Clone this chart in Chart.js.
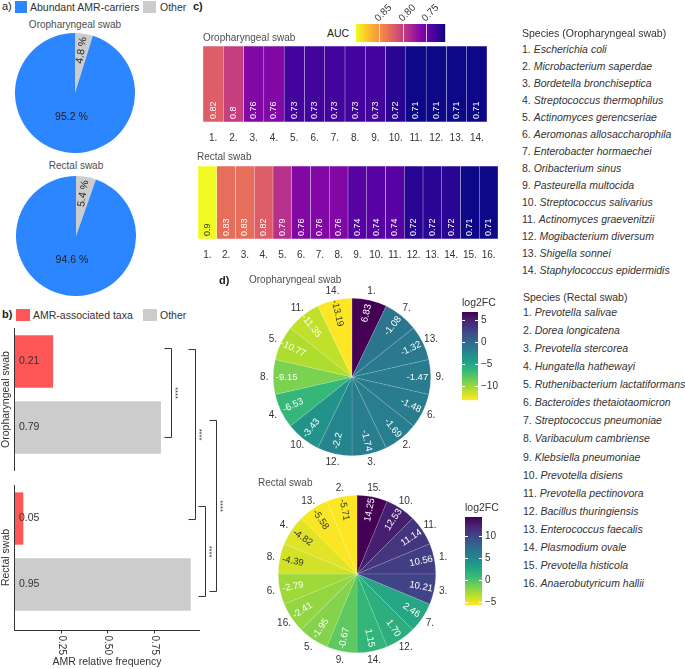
<!DOCTYPE html>
<html lang="en">
<head>
<meta charset="UTF-8">
<title>AMR carriers overview</title>
<script src="https://cdn.jsdelivr.net/npm/chart.js"></script>
<style>
  body { margin: 0; background: #fff; font-family: "Liberation Sans", Arial, sans-serif; color: #333; }
  #fig { position: relative; width: 685px; height: 669px; overflow: hidden; }
  #fig canvas { position: absolute; }
  .t { position: absolute; white-space: nowrap; line-height: 1; }
  .sq { position: absolute; }
  .title { font-size: 10px; color: #4d4d4d; }
  .tag { font-size: 11px; font-weight: bold; color: #222; }
  .leg { font-size: 10.5px; color: #333; }
  .species { font-size: 10.5px; color: #333; }
</style>
</head>
<body>
<div id="fig">
  <!-- a) -->
  <div class="t" style="left:2px;top:1px;font-size:11px;color:#222">a)</div>
  <div class="sq" style="left:15px;top:1px;width:12px;height:12px;background:#2b86ff"></div>
  <div class="t leg" style="left:30px;top:2px">Abundant AMR-carriers</div>
  <div class="sq" style="left:143px;top:1px;width:13px;height:12px;background:#cccccc"></div>
  <div class="t leg" style="left:160px;top:2px">Other</div>
  <div class="t title" style="left:0;width:150px;text-align:center;top:20px">Oropharyngeal swab</div>
  <canvas id="pieOro" width="120" height="120" style="left:15px;top:33px"></canvas>
  <div class="t title" style="left:1px;width:150px;text-align:center;top:161px">Rectal swab</div>
  <canvas id="pieRectal" width="120" height="120" style="left:16px;top:176px"></canvas>

  <!-- b) -->
  <div class="t tag" style="left:2px;top:309px">b)</div>
  <div class="sq" style="left:16px;top:309px;width:14px;height:12px;background:#ff5757"></div>
  <div class="t leg" style="left:33px;top:310px">AMR-associated taxa</div>
  <div class="sq" style="left:143px;top:309px;width:14px;height:12px;background:#cccccc"></div>
  <div class="t leg" style="left:160px;top:310px">Other</div>
  <canvas id="freq" width="232" height="369" style="left:0;top:300px"></canvas>

  <!-- c) -->
  <div class="t tag" style="left:193px;top:1px">c)</div>
  <div class="t leg" style="left:327px;top:28px;color:#222">AUC</div>
  <canvas id="heatOro" width="300" height="146" style="left:195px;top:0"></canvas>
  <div class="t title" style="left:203px;top:33px">Oropharyngeal swab</div>
  <canvas id="heatRectal" width="316" height="113" style="left:190px;top:150px"></canvas>
  <div class="t title" style="left:197px;top:152px">Rectal swab</div>

  <!-- d) -->
  <canvas id="fcOro" width="262" height="200" style="left:250px;top:277px"></canvas>
  <canvas id="fcRectal" width="262" height="200" style="left:255px;top:474px"></canvas>
  <div class="t tag" style="left:219px;top:275px">d)</div>
  <div class="t title" style="left:249px;top:275px">Oropharyngeal swab</div>
  <div class="t title" style="left:258px;top:478px">Rectal swab</div>

  <div id="speciesList"></div>
</div>

<script>
// a) share of abundant AMR carriers (clockwise from 12 o'clock)
const shareLabels = ['Other', 'Abundant AMR-carriers'];
const shareOro = [4.8, 95.2];
const shareRectal = [5.4, 94.6];

// b) AMR relative frequency
const swabs = ['Oropharyngeal swab', 'Rectal swab'];
const amrTaxa = [0.21, 0.05];
const amrOther = [0.79, 0.95];
const freqTicks = [0.25, 0.5, 0.75];

// c) AUC per species
const aucOroIds = ['1.', '2.', '3.', '4.', '5.', '6.', '7.', '8.', '9.', '10.', '11.', '12.', '13.', '14.'];
const aucOro = [0.82, 0.8, 0.76, 0.76, 0.73, 0.73, 0.73, 0.73, 0.73, 0.72, 0.71, 0.71, 0.71, 0.71];
const aucRectalIds = ['1.', '2.', '3.', '4.', '5.', '6.', '7.', '8.', '9.', '10.', '11.', '12.', '13.', '14.', '15.', '16.'];
const aucRectal = [0.9, 0.83, 0.83, 0.82, 0.79, 0.76, 0.76, 0.76, 0.74, 0.74, 0.74, 0.72, 0.72, 0.72, 0.71, 0.71];
const aucTicks = [0.85, 0.80, 0.75];

// d) log2 fold change, slices clockwise from 12 o'clock
const fcOroIds = ['1.', '7.', '13.', '9.', '6.', '2.', '3.', '12.', '10.', '4.', '8.', '5.', '11.', '14.'];
const fcOro = [6.83, -1.08, -1.32, -1.47, -1.48, -1.69, -1.74, -2.2, -3.43, -6.53, -9.15, -10.77, -11.35, -13.19];
const fcRectalIds = ['15.', '10.', '11.', '1.', '3.', '7.', '12.', '14.', '9.', '5.', '16.', '6.', '8.', '4.', '13.', '2.'];
const fcRectal = [14.25, 12.53, 11.14, 10.56, 10.21, 2.46, 1.70, 1.15, -0.67, -1.95, -2.41, -2.79, -4.39, -4.82, -5.58, -5.71];
const fcOroTicks = [5, 0, -5, -10];
const fcRectalTicks = [10, 5, 0, -5];

const speciesOro = ['Escherichia coli', 'Microbacterium saperdae', 'Bordetella bronchiseptica',
  'Streptococcus thermophilus', 'Actinomyces gerencseriae', 'Aeromonas allosaccharophila',
  'Enterobacter hormaechei', 'Oribacterium sinus', 'Pasteurella multocida', 'Streptococcus salivarius',
  'Actinomyces graevenitzii', 'Mogibacterium diversum', 'Shigella sonnei', 'Staphylococcus epidermidis'];
const speciesRectal = ['Prevotella salivae', 'Dorea longicatena', 'Prevotella stercorea', 'Hungatella hathewayi',
  'Ruthenibacterium lactatiformans', 'Bacteroides thetaiotaomicron', 'Streptococcus pneumoniae',
  'Varibaculum cambriense', 'Klebsiella pneumoniae', 'Prevotella disiens', 'Prevotella pectinovora',
  'Bacillus thuringiensis', 'Enterococcus faecalis', 'Plasmodium ovale', 'Prevotella histicola',
  'Anaerobutyricum hallii'];

const FONT = '"Liberation Sans", Arial, sans-serif';
Chart.defaults.font.family = FONT;
Chart.defaults.color = '#333';

const plasmaStops = ['#0d0887', '#41049d', '#6a00a8', '#8f0da4', '#b12a90', '#cc4778', '#e16462', '#f2844b', '#fca636', '#fcce25', '#f0f921'];
const viridisStops = ['#440154', '#482878', '#3e4989', '#31688e', '#26828e', '#1f9e89', '#35b779', '#6ece58', '#b5de2b', '#fde725'];

function ramp(stops, t) {
  t = Math.max(0, Math.min(1, t));
  const n = stops.length - 1;
  const i = Math.min(n - 1, Math.floor(t * n));
  const f = t * n - i;
  const a = stops[i], b = stops[i + 1];
  const c = [1, 3, 5].map(k => {
    const x = parseInt(a.slice(k, k + 2), 16), y = parseInt(b.slice(k, k + 2), 16);
    return Math.round(x + (y - x) * f);
  });
  return `rgb(${c.join(',')})`;
}

// text along the radius, flipped on the left half so it never reads upside down
function radialRotation(phi) {
  let theta = (phi + Math.PI / 2) % (2 * Math.PI);
  if (theta < 0) theta += 2 * Math.PI;
  return theta < Math.PI ? phi : phi - Math.PI;
}

const noChrome = { legend: { display: false }, tooltip: { enabled: false } };

// ---------- a) pies ----------
const sharePlugin = {
  id: 'shareLabels',
  afterDatasetsDraw(chart) {
    const ctx = chart.ctx;
    const values = chart.data.datasets[0].data;
    chart.getDatasetMeta(0).data.forEach((arc, i) => {
      const phi = (arc.startAngle + arc.endAngle) / 2;
      const small = values[i] < 50;
      const r = arc.outerRadius * (small ? 0.72 : 0.4);
      ctx.save();
      ctx.translate(arc.x + Math.cos(phi) * r, arc.y + Math.sin(phi) * r);
      if (small) ctx.rotate(radialRotation(phi));
      ctx.font = '10.5px ' + FONT;
      ctx.fillStyle = '#222';
      ctx.textAlign = 'center';
      ctx.textBaseline = 'middle';
      ctx.fillText(values[i] + ' %', 0, 0);
      ctx.restore();
    });
  }
};

function sharePie(id, values) {
  return new Chart(document.getElementById(id), {
    type: 'pie',
    data: { labels: shareLabels, datasets: [{ data: values, backgroundColor: ['#cccccc', '#2b86ff'], borderWidth: 0, hoverOffset: 0 }] },
    options: { responsive: false, animation: false, plugins: noChrome },
    plugins: [sharePlugin]
  });
}
sharePie('pieOro', shareOro);
sharePie('pieRectal', shareRectal);

// ---------- b) horizontal bars with brackets ----------
const brackets = [
  { a: [0, 0], b: [1, 0], dx: -29, up: 13, down: 10 },
  { a: [0, 0], b: [0, 1], dx: -5, up: 12, down: 1 },
  { a: [1, 0], b: [1, 1], dx: 16, up: 7, down: 7 },
  { a: [0, 1], b: [1, 1], dx: 5, up: 12, down: 12 }
];

const freqPlugin = {
  id: 'freqDecor',
  afterDatasetsDraw(chart) {
    const { ctx, chartArea: a, scales: { x } } = chart;
    ctx.save();
    ctx.strokeStyle = '#333';
    ctx.fillStyle = '#333';
    ctx.lineWidth = 1;
    // value labels
    ctx.font = '10.5px ' + FONT;
    ctx.textAlign = 'left';
    ctx.textBaseline = 'middle';
    chart.data.datasets.forEach((ds, d) => {
      chart.getDatasetMeta(d).data.forEach((bar, i) => {
        ctx.fillText(ds.data[i].toFixed(2), x.getPixelForValue(0) + 5, bar.y);
      });
    });
    // facet axes and strip labels
    const step = (a.bottom - a.top) / swabs.length;
    const x0 = Math.round(x.getPixelForValue(0)) + 0.5;
    swabs.forEach((s, i) => {
      const top = a.top + i * step + 12;
      const bottom = i === swabs.length - 1 ? a.bottom : a.top + (i + 1) * step - 2;
      ctx.beginPath();
      ctx.moveTo(x0, top);
      ctx.lineTo(x0, bottom);
      ctx.stroke();
      ctx.save();
      ctx.translate(6, (top + bottom) / 2);
      ctx.rotate(-Math.PI / 2);
      ctx.textAlign = 'center';
      ctx.fillText(s, 0, 0);
      ctx.restore();
    });
    // x axis
    const yb = Math.round(a.bottom) + 0.5;
    ctx.beginPath();
    ctx.moveTo(a.left, yb);
    ctx.lineTo(a.right, yb);
    ctx.stroke();
    ctx.font = '10px ' + FONT;
    freqTicks.forEach(v => {
      const px = Math.round(x.getPixelForValue(v)) + 0.5;
      ctx.beginPath();
      ctx.moveTo(px, yb);
      ctx.lineTo(px, yb + 3);
      ctx.stroke();
      ctx.save();
      ctx.translate(px, yb + 5);
      ctx.rotate(Math.PI / 2);
      ctx.textAlign = 'left';
      ctx.fillText(v.toFixed(2), 0, 0);
      ctx.restore();
    });
    ctx.font = '10.5px ' + FONT;
    ctx.textAlign = 'center';
    ctx.fillText('AMR relative frequency', (a.left + a.right) / 2, a.bottom + 32);
    // significance brackets
    brackets.forEach(b => {
      const ya = chart.getDatasetMeta(b.a[0]).data[b.a[1]].y - b.up;
      const yz = chart.getDatasetMeta(b.b[0]).data[b.b[1]].y + b.down;
      const bx = Math.round(a.right + b.dx) + 0.5;
      ctx.beginPath();
      ctx.moveTo(bx - 7, ya);
      ctx.lineTo(bx, ya);
      ctx.lineTo(bx, yz);
      ctx.lineTo(bx - 7, yz);
      ctx.stroke();
      ctx.save();
      ctx.translate(bx + 4, (ya + yz) / 2);
      ctx.rotate(Math.PI / 2);
      ctx.font = '7.5px ' + FONT;
      ctx.textAlign = 'center';
      ctx.fillText('****', 0, 0);
      ctx.restore();
    });
    ctx.restore();
  }
};

new Chart(document.getElementById('freq'), {
  type: 'bar',
  data: {
    labels: swabs,
    datasets: [
      { label: 'AMR-associated taxa', data: amrTaxa, backgroundColor: '#ff5757' },
      { label: 'Other', data: amrOther, backgroundColor: '#cccccc' }
    ]
  },
  options: {
    indexAxis: 'y',
    responsive: false,
    animation: false,
    layout: { padding: { left: 14, right: 32, top: 16, bottom: 39 } },
    datasets: { bar: { categoryPercentage: 0.84, barPercentage: 0.794 } },
    scales: { x: { display: false, min: 0, max: 1 }, y: { display: false } },
    plugins: noChrome
  },
  plugins: [freqPlugin]
});

// ---------- c) AUC heatmaps ----------
const aucAll = aucOro.concat(aucRectal);
const aucMin = Math.min(...aucAll), aucMax = Math.max(...aucAll);
const aucT = v => (v - aucMin) / (aucMax - aucMin);

function aucLabels(values, withBar) {
  return {
    id: 'aucLabels',
    afterDatasetsDraw(chart) {
      const { ctx, chartArea: a } = chart;
      chart.getDatasetMeta(0).data.forEach((bar, i) => {
        ctx.save();
        ctx.translate(bar.x, a.bottom - 3);
        ctx.rotate(-Math.PI / 2);
        ctx.font = '9px ' + FONT;
        ctx.fillStyle = aucT(values[i]) > 0.9 ? '#333' : '#fff';
        ctx.textAlign = 'left';
        ctx.textBaseline = 'middle';
        ctx.fillText(String(values[i]), 0, 0);
        ctx.restore();
      });
      if (!withBar) return;
      // AUC colour bar, high values on the left
      const bx = 161, by = 24, bw = 89, bh = 18;
      for (let i = 0; i < bw; i++) {
        ctx.fillStyle = ramp(plasmaStops, 1 - i / (bw - 1));
        ctx.fillRect(bx + i, by, 1.2, bh);
      }
      ctx.save();
      aucTicks.forEach(v => {
        const px = Math.round(bx + (aucMax - v) / (aucMax - aucMin) * bw) + 0.5;
        ctx.strokeStyle = 'rgba(255,255,255,0.75)';
        ctx.lineWidth = 1;
        ctx.beginPath();
        ctx.moveTo(px, by);
        ctx.lineTo(px, by + bh);
        ctx.stroke();
        ctx.save();
        ctx.translate(px - 3, by - 4);
        ctx.rotate(-Math.PI / 4);
        ctx.font = '10px ' + FONT;
        ctx.fillStyle = '#333';
        ctx.textAlign = 'left';
        ctx.textBaseline = 'middle';
        ctx.fillText(v.toFixed(2), 0, 0);
        ctx.restore();
      });
      ctx.restore();
    }
  };
}

function heatmap(id, ids, values, padTop, withBar) {
  return new Chart(document.getElementById(id), {
    type: 'bar',
    data: {
      labels: ids,
      datasets: [{
        data: values.map(() => 1),
        backgroundColor: values.map(v => ramp(plasmaStops, aucT(v))),
        borderColor: 'rgba(255,255,255,0.12)',
        borderWidth: 0.5,
        borderSkipped: false
      }]
    },
    options: {
      responsive: false,
      animation: false,
      layout: { padding: { left: 8, right: 8, top: padTop, bottom: 0 } },
      datasets: { bar: { barPercentage: 1, categoryPercentage: 1 } },
      scales: {
        x: {
          grid: { display: false },
          border: { display: false },
          ticks: { color: '#333', font: { size: 10 }, padding: 2, maxRotation: 0, autoSkip: false }
        },
        y: { display: false, min: 0, max: 1 }
      },
      plugins: noChrome
    },
    plugins: [aucLabels(values, withBar)]
  });
}
heatmap('heatOro', aucOroIds, aucOro, 46, true);
heatmap('heatRectal', aucRectalIds, aucRectal, 16, false);

// ---------- d) log2FC polar pies ----------
function fcPlugin(values, texts, cb) {
  const min = Math.min(...values), max = Math.max(...values);
  return {
    id: 'fcDecor',
    afterDatasetsDraw(chart) {
      const ctx = chart.ctx;
      const ids = chart.data.labels;
      chart.getDatasetMeta(0).data.forEach((arc, i) => {
        const phi = (arc.startAngle + arc.endAngle) / 2;
        const r = arc.outerRadius;
        const t = (values[i] - min) / (max - min);
        ctx.save();
        ctx.translate(arc.x + Math.cos(phi) * r * 0.83, arc.y + Math.sin(phi) * r * 0.83);
        ctx.rotate(radialRotation(phi));
        ctx.font = '9.5px ' + FONT;
        ctx.fillStyle = t < 0.08 ? '#333' : '#fff';
        ctx.textAlign = 'center';
        ctx.textBaseline = 'middle';
        ctx.fillText(texts[i], 0, 0);
        ctx.restore();
        ctx.font = '10px ' + FONT;
        ctx.fillStyle = '#333';
        ctx.textAlign = 'center';
        ctx.textBaseline = 'middle';
        ctx.fillText(ids[i], arc.x + Math.cos(phi) * (r + 9), arc.y + Math.sin(phi) * (r + 9));
      });
      // colour bar
      for (let i = 0; i < cb.h; i++) {
        ctx.fillStyle = ramp(viridisStops, i / (cb.h - 1));
        ctx.fillRect(cb.x, cb.y + i, cb.w, 1.2);
      }
      ctx.font = '10.5px ' + FONT;
      ctx.fillStyle = '#333';
      ctx.textAlign = 'left';
      ctx.textBaseline = 'middle';
      ctx.fillText('log2FC', cb.x, cb.y - 9);
      ctx.font = '10px ' + FONT;
      cb.ticks.forEach(v => {
        const py = Math.round(cb.y + (max - v) / (max - min) * cb.h) + 0.5;
        ctx.strokeStyle = '#fff';
        ctx.lineWidth = 1;
        ctx.beginPath();
        ctx.moveTo(cb.x, py); ctx.lineTo(cb.x + 3, py);
        ctx.moveTo(cb.x + cb.w - 3, py); ctx.lineTo(cb.x + cb.w, py);
        ctx.stroke();
        ctx.fillStyle = '#333';
        ctx.fillText(v < 0 ? '\u2212' + Math.abs(v) : String(v), cb.x + cb.w + 3, py);
      });
    }
  };
}

function fcPie(id, ids, values, texts, cb) {
  const min = Math.min(...values), max = Math.max(...values);
  return new Chart(document.getElementById(id), {
    type: 'pie',
    data: {
      labels: ids,
      datasets: [{
        data: values.map(() => 1),
        backgroundColor: values.map(v => ramp(viridisStops, 1 - (v - min) / (max - min))),
        borderColor: 'rgba(255,255,255,0.25)',
        borderWidth: 0.5,
        hoverOffset: 0
      }]
    },
    options: {
      responsive: false,
      animation: false,
      layout: { padding: { left: 23, right: 81, top: 21, bottom: 21 } },
      plugins: noChrome
    },
    plugins: [fcPlugin(values, texts, cb)]
  });
}
fcPie('fcOro', fcOroIds, fcOro, fcOro.map(v => String(v)),
  { x: 212, y: 35, w: 16, h: 88, ticks: fcOroTicks });
fcPie('fcRectal', fcRectalIds, fcRectal, fcRectal.map(v => v.toFixed(2)),
  { x: 210, y: 43, w: 17, h: 88, ticks: fcRectalTicks });

// ---------- species key ----------
const list = document.getElementById('speciesList');
let html = '<div class="t species" style="left:522px;top:28px">Species (Oropharyngeal swab)</div>';
speciesOro.forEach((s, i) => {
  html += `<div class="t species" style="left:522px;top:${44 + i * 17}px">${i + 1}. <i>${s}</i></div>`;
});
html += '<div class="t species" style="left:523px;top:292px">Species (Rectal swab)</div>';
speciesRectal.forEach((s, i) => {
  html += `<div class="t species" style="left:523px;top:${307 + i * 18.07}px">${i + 1}. <i>${s}</i></div>`;
});
list.innerHTML = html;
</script>
</body>
</html>
